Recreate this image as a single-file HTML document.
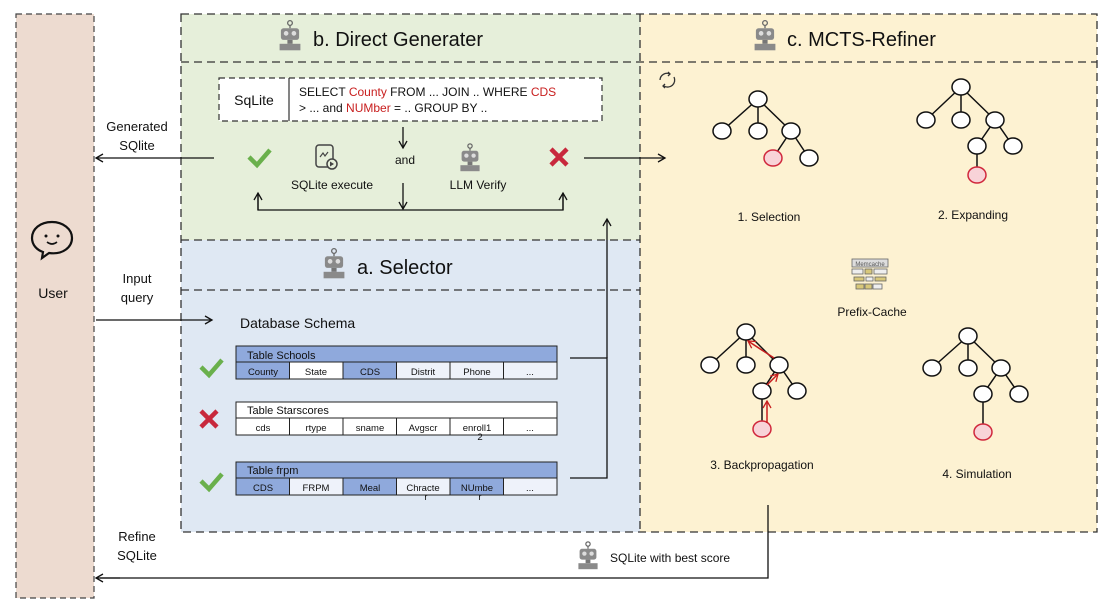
<!DOCTYPE html>
<html><head><meta charset="utf-8"><style>
body{margin:0;background:#fff;}
svg{display:block;font-family:"Liberation Sans",sans-serif;}
</style></head><body>
<svg width="1112" height="609" viewBox="0 0 1112 609" xmlns="http://www.w3.org/2000/svg">
<defs>
<marker id="ah" markerWidth="10" markerHeight="10" refX="8" refY="5" orient="auto" markerUnits="userSpaceOnUse"><path d="M1,1 L8,5 L1,9" fill="none" stroke="#111" stroke-width="1.3"/></marker>
<marker id="ahr" markerWidth="10" markerHeight="10" refX="8" refY="5" orient="auto" markerUnits="userSpaceOnUse"><path d="M1,1 L8,5 L1,9" fill="none" stroke="#c81e1e" stroke-width="1.3"/></marker>
<g id="robot"><circle cx="0" cy="-10" r="1.8" fill="none" stroke="#666" stroke-width="1"/><line x1="0" y1="-8" x2="0" y2="-6" stroke="#666"/><rect x="-7" y="-6" width="14" height="9" rx="2" fill="#8a8a8a"/><circle cx="-3" cy="-2" r="1.8" fill="#ddd"/><circle cx="3" cy="-2" r="1.8" fill="#ddd"/><rect x="-2" y="3" width="4" height="3" fill="#777"/><rect x="-8" y="6" width="16" height="5" fill="#8a8a8a"/></g>
</defs>
<rect x="16" y="14" width="78" height="584" fill="#eddbd0" stroke="#444" stroke-dasharray="6,4" stroke-width="1.2"/>
<rect x="181" y="14" width="459" height="226" fill="#e6efda"/>
<rect x="181" y="240" width="459" height="292" fill="#dfe8f3"/>
<rect x="640" y="14" width="457" height="518" fill="#fdf2d2"/>
<g fill="none" stroke="#333" stroke-width="1.3" stroke-dasharray="8,5">
<rect x="181" y="14" width="916" height="518"/>
<line x1="181" y1="62" x2="1097" y2="62"/>
<line x1="181" y1="240" x2="640" y2="240"/>
<line x1="181" y1="290" x2="640" y2="290"/>
<line x1="640" y1="14" x2="640" y2="532"/>
</g>
<use href="#robot" transform="translate(290,36) scale(1.3)"/>
<text x="313" y="46" font-size="20" fill="#111">b.  Direct Generater</text>
<use href="#robot" transform="translate(765,36) scale(1.3)"/>
<text x="787" y="46" font-size="20" fill="#111">c. MCTS-Refiner</text>
<use href="#robot" transform="translate(334,264) scale(1.3)"/>
<text x="357" y="274" font-size="20" fill="#111">a. Selector</text>
<path d="M52,222 c-12,0 -20,7 -20,16 c0,7 5,12 11,14 l-1,6 l7,-5 c14,2 23,-6 23,-15 c0,-9 -9,-16 -20,-16z" fill="none" stroke="#111" stroke-width="2.2"/>
<circle cx="46" cy="236" r="1.5" fill="#111"/><circle cx="58" cy="236" r="1.5" fill="#111"/>
<path d="M47,242 q5,4 10,0" fill="none" stroke="#111" stroke-width="1.6"/>
<text x="53" y="298" font-size="14" text-anchor="middle" fill="#111">User</text>
<rect x="219" y="78" width="383" height="43" fill="#fff" stroke="#333" stroke-dasharray="6,4" stroke-width="1.2"/>
<line x1="289" y1="78" x2="289" y2="121" stroke="#333" stroke-width="1.2"/>
<text x="254" y="105" font-size="14" text-anchor="middle" fill="#111">SqLite</text>
<text x="299" y="96" font-size="12" fill="#111">SELECT <tspan fill="#c81e1e">County</tspan> FROM ... JOIN .. WHERE <tspan fill="#c81e1e">CDS</tspan></text>
<text x="299" y="112" font-size="12" fill="#111">&gt; ... and <tspan fill="#c81e1e">NUMber</tspan> = ..   GROUP BY ..</text>
<path d="M249,157 l8,8 l13,-15" fill="none" stroke="#6ab04c" stroke-width="4.5"/>
<rect x="316" y="145" width="17" height="22" rx="3" fill="none" stroke="#444" stroke-width="1.5"/>
<circle cx="332" cy="164" r="5" fill="#e6efda" stroke="#444" stroke-width="1.5"/>
<path d="M330,161.5 l4,2.5 l-4,2.5z" fill="#444"/>
<path d="M320,157 l3,-4 l2,3 l3,-4" fill="none" stroke="#444" stroke-width="1.2"/>
<text x="332" y="189" font-size="12" text-anchor="middle" fill="#111">SQLite execute</text>
<text x="405" y="164" font-size="12" text-anchor="middle" fill="#111">and</text>
<use href="#robot" transform="translate(470,158) scale(1.2)"/>
<text x="478" y="189" font-size="12" text-anchor="middle" fill="#111">LLM Verify</text>
<path d="M551,149 l16,16 M567,149 l-16,16" stroke="#c8283c" stroke-width="4.5"/>
<g stroke="#111" stroke-width="1.3" fill="none">
<line x1="403" y1="127" x2="403" y2="148" marker-end="url(#ah)"/>
<line x1="403" y1="183" x2="403" y2="209" marker-end="url(#ah)"/>
<polyline points="258,195 258,210 563,210 563,195"/>
<line x1="258" y1="210" x2="258" y2="193" marker-end="url(#ah)"/>
<line x1="563" y1="210" x2="563" y2="193" marker-end="url(#ah)"/>
<line x1="214" y1="158" x2="96" y2="158" marker-end="url(#ah)"/>
<line x1="584" y1="158" x2="665" y2="158" marker-end="url(#ah)"/>
<line x1="96" y1="320" x2="212" y2="320" marker-end="url(#ah)"/>
<polyline points="570,358 607,358 607,478 570,478"/>
<line x1="607" y1="358" x2="607" y2="219" marker-end="url(#ah)"/>
<polyline points="768,505 768,578 100,578"/>
<line x1="120" y1="578" x2="96" y2="578" marker-end="url(#ah)"/>
</g>
<text x="137" y="131" font-size="13" text-anchor="middle" fill="#111">Generated</text>
<text x="137" y="150" font-size="13" text-anchor="middle" fill="#111">SQlite</text>
<text x="137" y="283" font-size="13" text-anchor="middle" fill="#111">Input</text>
<text x="137" y="302" font-size="13" text-anchor="middle" fill="#111">query</text>
<text x="137" y="541" font-size="13" text-anchor="middle" fill="#111">Refine</text>
<text x="137" y="560" font-size="13" text-anchor="middle" fill="#111">SQLite</text>
<use href="#robot" transform="translate(588,556) scale(1.2)"/>
<text x="610" y="562" font-size="12" fill="#111">SQLite with best score</text>
<text x="240" y="328" font-size="14" fill="#111">Database Schema</text>
<g font-size="10.5" text-anchor="middle" fill="#111" stroke="#222" stroke-width="1">
<rect x="236" y="346" width="321" height="16" fill="#8fa9dc"/>
<rect x="236" y="362" width="53.5" height="17" fill="#8fa9dc"/><rect x="289.5" y="362" width="53.5" height="17" fill="#fff"/><rect x="343" y="362" width="53.5" height="17" fill="#8fa9dc"/><rect x="396.5" y="362" width="53.5" height="17" fill="#eef2fa"/><rect x="450" y="362" width="53.5" height="17" fill="#eef2fa"/><rect x="503.5" y="362" width="53.5" height="17" fill="#eef2fa"/>
<rect x="236" y="402" width="321" height="16" fill="#fff"/>
<rect x="236" y="418" width="53.5" height="17" fill="#fff"/><rect x="289.5" y="418" width="53.5" height="17" fill="#fff"/><rect x="343" y="418" width="53.5" height="17" fill="#fff"/><rect x="396.5" y="418" width="53.5" height="17" fill="#fff"/><rect x="450" y="418" width="53.5" height="17" fill="#fff"/><rect x="503.5" y="418" width="53.5" height="17" fill="#fff"/>
<rect x="236" y="462" width="321" height="16" fill="#8fa9dc"/>
<rect x="236" y="478" width="53.5" height="17" fill="#8fa9dc"/><rect x="289.5" y="478" width="53.5" height="17" fill="#eef2fa"/><rect x="343" y="478" width="53.5" height="17" fill="#8fa9dc"/><rect x="396.5" y="478" width="53.5" height="17" fill="#eef2fa"/><rect x="450" y="478" width="53.5" height="17" fill="#8fa9dc"/><rect x="503.5" y="478" width="53.5" height="17" fill="#eef2fa"/>
</g>
<g font-size="11" fill="#111">
<text x="247" y="359">Table Schools</text><text x="247" y="414">Table Starscores</text><text x="247" y="474">Table frpm</text>
</g>
<g font-size="9.5" text-anchor="middle" fill="#111">
<text x="263" y="375">County</text><text x="316" y="375">State</text><text x="370" y="375">CDS</text><text x="423" y="375">Distrit</text><text x="477" y="375">Phone</text><text x="530" y="375">...</text>
<text x="263" y="431">cds</text><text x="316" y="431">rtype</text><text x="370" y="431">sname</text><text x="423" y="431">Avgscr</text><text x="477" y="431">enroll1</text><text x="480" y="440">2</text><text x="530" y="431">...</text>
<text x="263" y="491">CDS</text><text x="316" y="491">FRPM</text><text x="370" y="491">Meal</text><text x="423" y="491">Chracte</text><text x="426" y="500">r</text><text x="477" y="491">NUmbe</text><text x="480" y="500">r</text><text x="530" y="491">...</text>
</g>
<path d="M201,367 l8,8 l13,-15" fill="none" stroke="#6ab04c" stroke-width="4.5"/>
<path d="M201,411 l16,16 M217,411 l-16,16" stroke="#c8283c" stroke-width="4.5"/>
<path d="M201,481 l8,8 l13,-15" fill="none" stroke="#6ab04c" stroke-width="4.5"/>
<g fill="none" stroke="#333" stroke-width="1.3">
<path d="M660,80 a7,7 0 0,1 10,-6"/><path d="M674,77 a7,7 0 0,1 -10,9"/>
<path d="M668,72 l2,2 l-2,2"/><path d="M665,84 l-2,2 l2,2"/>
</g>
<g stroke="#111" stroke-width="1.5">
<path d="M758,99 L722,131 M758,99 L758,131 M758,99 L791,131 M791,131 L773,158 M791,131 L809,158"/>
<path d="M961,87 L926,120 M961,87 L961,120 M961,87 L995,120 M995,120 L977,146 M995,120 L1013,146 M977,146 L977,175"/>
<path d="M746,332 L710,365 M746,332 L746,365 M746,332 L779,365 M779,365 L762,391 M779,365 L797,391 M762,391 L762,429"/>
<path d="M968,336 L932,368 M968,336 L968,368 M968,336 L1001,368 M1001,368 L983,394 M1001,368 L1019,394 M983,394 L983,432"/>
</g>
<g fill="#fff" stroke="#111" stroke-width="1.5">
<ellipse cx="758" cy="99" rx="9" ry="8"/><ellipse cx="722" cy="131" rx="9" ry="8"/><ellipse cx="758" cy="131" rx="9" ry="8"/><ellipse cx="791" cy="131" rx="9" ry="8"/><ellipse cx="809" cy="158" rx="9" ry="8"/>
<ellipse cx="961" cy="87" rx="9" ry="8"/><ellipse cx="926" cy="120" rx="9" ry="8"/><ellipse cx="961" cy="120" rx="9" ry="8"/><ellipse cx="995" cy="120" rx="9" ry="8"/><ellipse cx="977" cy="146" rx="9" ry="8"/><ellipse cx="1013" cy="146" rx="9" ry="8"/>
<ellipse cx="746" cy="332" rx="9" ry="8"/><ellipse cx="710" cy="365" rx="9" ry="8"/><ellipse cx="746" cy="365" rx="9" ry="8"/><ellipse cx="779" cy="365" rx="9" ry="8"/><ellipse cx="762" cy="391" rx="9" ry="8"/><ellipse cx="797" cy="391" rx="9" ry="8"/>
<ellipse cx="968" cy="336" rx="9" ry="8"/><ellipse cx="932" cy="368" rx="9" ry="8"/><ellipse cx="968" cy="368" rx="9" ry="8"/><ellipse cx="1001" cy="368" rx="9" ry="8"/><ellipse cx="983" cy="394" rx="9" ry="8"/><ellipse cx="1019" cy="394" rx="9" ry="8"/>
</g>
<g fill="#f8d3d8" stroke="#d0283c" stroke-width="1.5">
<ellipse cx="773" cy="158" rx="9" ry="8"/><ellipse cx="977" cy="175" rx="9" ry="8"/><ellipse cx="762" cy="429" rx="9" ry="8"/><ellipse cx="983" cy="432" rx="9" ry="8"/>
</g>
<g stroke="#c81e1e" stroke-width="1.5" fill="none">
<line x1="767" y1="423" x2="767" y2="401" marker-end="url(#ahr)"/>
<line x1="767" y1="385" x2="778" y2="374" marker-end="url(#ahr)"/>
<line x1="774" y1="358" x2="748" y2="341" marker-end="url(#ahr)"/>
</g>
<g font-size="12" text-anchor="middle" fill="#111">
<text x="769" y="221">1. Selection</text><text x="973" y="219">2. Expanding</text>
<text x="872" y="316">Prefix-Cache</text><text x="762" y="469">3. Backpropagation</text><text x="977" y="478">4. Simulation</text>
</g>
<g stroke="#666" stroke-width="0.8">
<rect x="852" y="259" width="36" height="8" fill="#ddd"/>
<text x="870" y="266" font-size="6" text-anchor="middle" fill="#555" stroke="none">Memcache</text>
<rect x="852" y="269" width="11" height="5" fill="#eee"/><rect x="865" y="269" width="7" height="5" fill="#d8c87a"/><rect x="874" y="269" width="13" height="5" fill="#eee"/>
<rect x="854" y="277" width="10" height="4" fill="#d8c87a"/><rect x="866" y="277" width="7" height="4" fill="#eee"/><rect x="875" y="277" width="11" height="4" fill="#d8c87a"/>
<rect x="856" y="284" width="8" height="5" fill="#d8c87a"/><rect x="865" y="284" width="7" height="5" fill="#d8c87a"/><rect x="873" y="284" width="9" height="5" fill="#eee"/>
</g>
</svg>
</body></html>
